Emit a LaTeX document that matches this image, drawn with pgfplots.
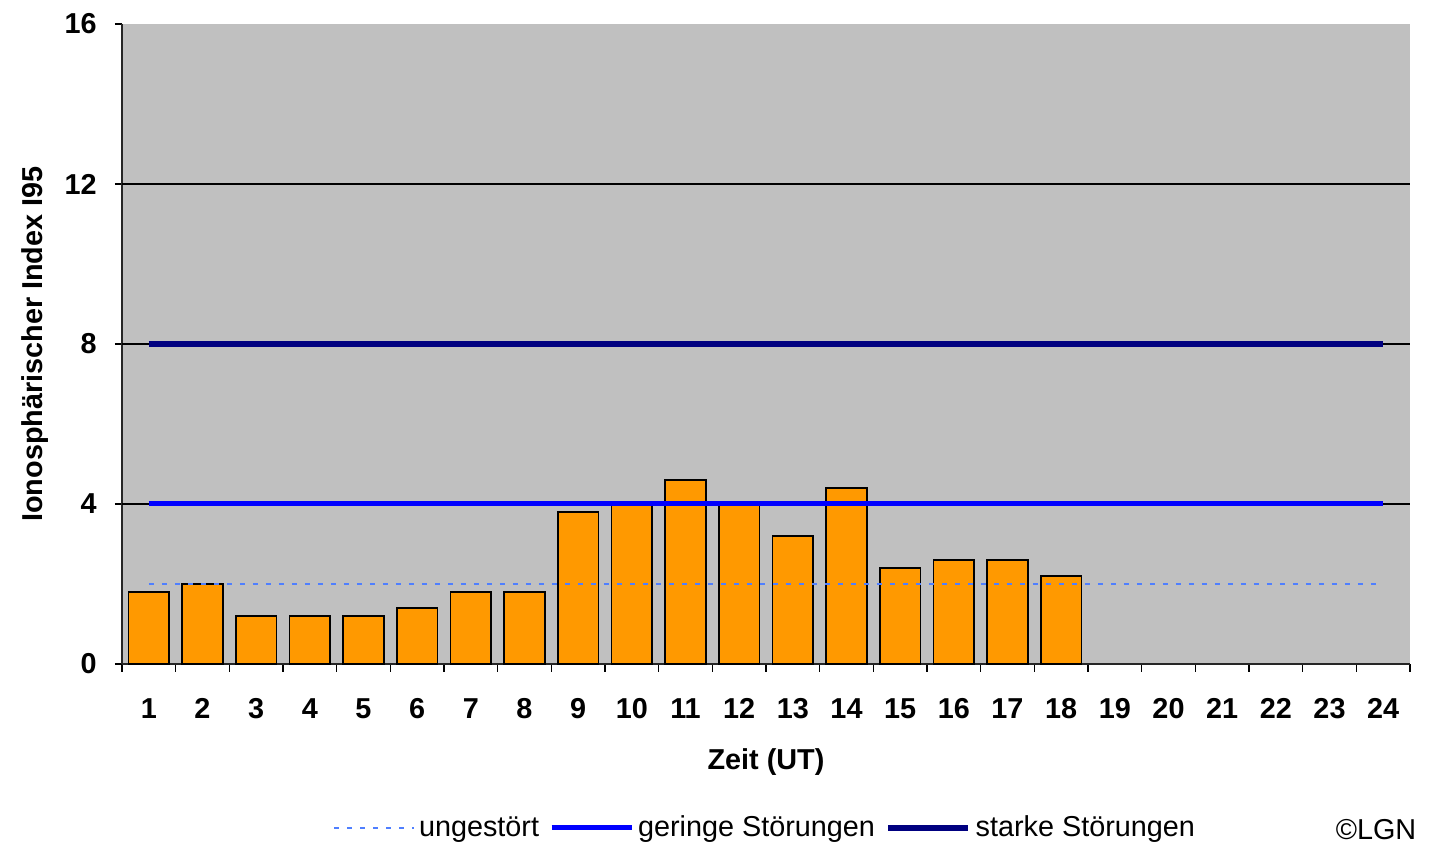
\documentclass[border=0pt]{standalone}
\usepackage{fontspec}
\setmainfont{Liberation Sans}
\usepackage{pgfplots}
\pgfplotsset{compat=1.18}

\definecolor{plotgray}{HTML}{C0C0C0}
\definecolor{barorange}{HTML}{FF9900}
\definecolor{lightblue}{HTML}{4F7FFF}
\definecolor{midblue}{HTML}{0000FF}
\definecolor{navyblue}{HTML}{000080}

\begin{document}
\begin{tikzpicture}[x=1pt,y=1pt]
\path[use as bounding box, fill=white] (0,0) rectangle (715,422.5);
\begin{axis}[
  at={(61pt,90.5pt)}, anchor=south west,
  scale only axis, width=644pt, height=320pt,
  font=\fontsize{14.4}{17}\selectfont,
  /pgf/number format/assume math mode=true,
  axis background/.style={fill=plotgray},
  axis x line*=bottom, axis y line*=left,
  axis line style={line width=1pt, black!85},
  xmin=0.5, xmax=24.5, ymin=0, ymax=16,
  xtick={1,...,24}, major x tick style={draw=none},
  minor xtick={0.5,1.5,...,24.5},
  ytick={0,4,8,12,16},
  extra y ticks={4,8,12}, extra y tick labels={},
  extra y tick style={grid=major, major tick length=0pt},
  grid style={black, line width=0.6pt},
  tick align=outside, major tick length=3.5pt, minor tick length=4pt,
  tick style={black, line width=0.8pt},
  xticklabel style={font=\fontsize{14.4}{17}\selectfont\bfseries, anchor=base, yshift=-24pt},
  yticklabel style={font=\fontsize{14.4}{17}\selectfont\bfseries, anchor=east, inner sep=0pt, xshift=-9pt},
  xlabel={\bfseries Zeit (UT)},
  xlabel style={at={(axis description cs:0.5,-0.153)}, anchor=center},
  ylabel={\bfseries Ionosphärischer Index I95},
  ylabel style={at={(axis description cs:-0.0675,0.5)}, anchor=center},
  clip=false,
  legend columns=3,
  legend style={at={(0.5,-0.256)}, anchor=center, draw=none, fill=none,
    font=\fontsize{14.4}{17}\selectfont,
    /tikz/every even column/.append style={column sep=3pt}},
  legend image code/.code={\draw[#1] (0pt,0pt) -- (40pt,0pt);},
]
\addplot[ybar, bar width=0.76, fill=barorange, draw=black, line width=0.9pt, forget plot]
  coordinates {(1,1.8) (2,2.0) (3,1.2) (4,1.2) (5,1.2) (6,1.4) (7,1.8) (8,1.8) (9,3.8)
    (10,4.0) (11,4.6) (12,4.0) (13,3.2) (14,4.4) (15,2.4) (16,2.6) (17,2.6) (18,2.2)};
\addplot[lightblue, line width=1pt, dash pattern=on 2.5pt off 4pt] coordinates {(1,2) (24,2)};
\addplot[midblue, line width=2.5pt] coordinates {(1,4) (24,4)};
\addplot[navyblue, line width=3.3pt] coordinates {(1,8) (24,8)};
\legend{ungestört, geringe Störungen, starke Störungen}
\node[anchor=center, font=\fontsize{14.4}{17}\selectfont] at (axis description cs:0.9736,-0.259) {©LGN};
\end{axis}
\end{tikzpicture}
\end{document}
